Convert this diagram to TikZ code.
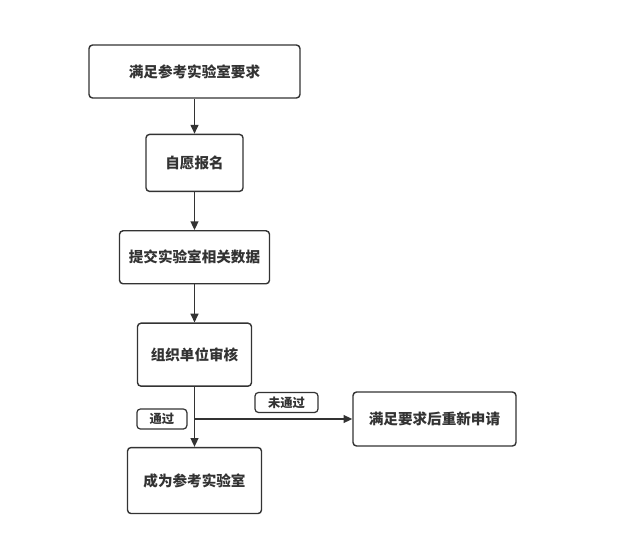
\documentclass[tikz,border=0pt]{standalone}
\usepackage{fontspec}
\newfontfamily\cjk{Noto Sans CJK SC}
\usepackage{xcolor}
\usetikzlibrary{arrows.meta,positioning}
\definecolor{ink}{RGB}{51,51,51}
\begin{document}
\begin{tikzpicture}[x=0.02cm,y=-0.02cm,font=\cjk\bfseries\fontsize{8.3}{10}\selectfont,
  box/.style={draw=ink,line width=0.8pt,rounded corners=2pt,fill=white,align=center,text=ink},
  tag/.style={draw=ink,line width=0.7pt,rounded corners=2pt,fill=white,text=ink,font=\cjk\bfseries\fontsize{7}{8}\selectfont,minimum width=1cm,minimum height=0.4cm,inner sep=1pt},
  a/.style={-{Triangle[length=5pt,width=4.5pt]},line width=0.8pt,color=ink}]
  \useasboundingbox (0,0) rectangle (638,558);
  \node[box,minimum width=4.22cm,minimum height=1.06cm] (req) at (194.5,71.5) {满足参考实验室要求};
  \node[box,below=0.7cm of req,minimum width=1.94cm,minimum height=1.14cm] (apply) {自愿报名};
  \node[box,below=0.76cm of apply,minimum width=3cm,minimum height=1.06cm] (submit) {提交实验室相关数据};
  \node[box,below=0.76cm of submit,minimum width=2.28cm,minimum height=1.26cm] (check) {组织单位审核};
  \node[box,below=1.2cm of check,minimum width=2.68cm,minimum height=1.32cm] (become) {成为参考实验室};
  \node[box,minimum width=3.26cm,minimum height=1.08cm] (redo) at (434.5,419) {满足要求后重新申请};
  \coordinate (fork) at (check.south |- redo.west);
  \draw[a] (req)--(apply); \draw[a] (apply)--(submit); \draw[a] (submit)--(check);
  \draw[a] (check)--(become); \draw[a] (fork)--(redo);
  \node[tag,left=0.14cm of fork] (pass) {通过};
  \node[tag,minimum width=1.26cm] (fail) at (286.5,402.5) {未通过};
\end{tikzpicture}
\end{document}
